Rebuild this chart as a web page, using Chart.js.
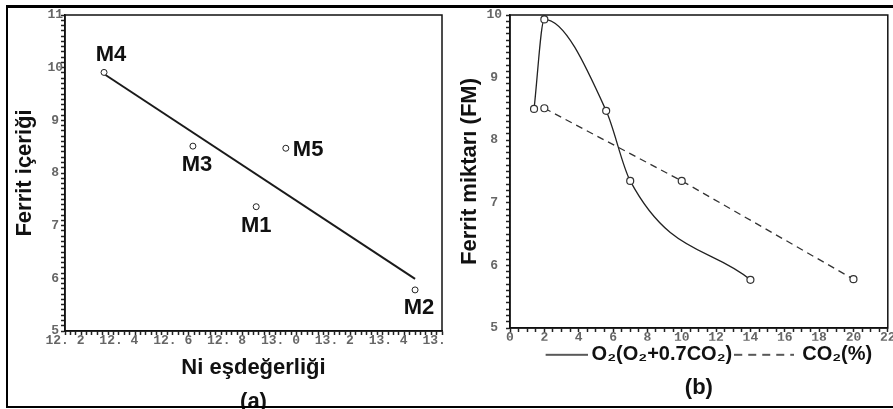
<!DOCTYPE html>
<html><head><meta charset="utf-8">
<script src="https://cdn.jsdelivr.net/npm/chart.js@4.4.1/dist/chart.umd.min.js"></script>
<style>
html,body{margin:0;padding:0;background:#fff;}
body{width:893px;height:409px;position:relative;overflow:hidden;}
#wa{position:absolute;left:0;top:0;width:448px;height:409px;}
#wb{position:absolute;left:448px;top:0;width:445px;height:409px;}
#frame{position:absolute;left:6px;top:5px;width:887px;height:403px;box-sizing:border-box;border:2px solid #000;border-top-width:3px;border-right:none;pointer-events:none;}
</style></head><body>
<div id="wa"><canvas id="ca"></canvas></div>
<div id="wb"><canvas id="cb"></canvas></div>
<div id="frame"></div>
<script>
// ---------- Panel (a) data ----------
const sampleNames   = ['M1', 'M2', 'M3', 'M4', 'M5'];
const niEquivalent  = [12.91, 13.50, 12.675, 12.345, 13.02];
const ferriteA      = [7.36, 5.78, 8.51, 9.91, 8.47];
const fitLineX      = [12.345, 13.50];
const fitLineY      = [9.88, 5.99];
const xTickLabelsA  = ['12. 2', '12. 4', '12. 6', '12. 8', '13. 0', '13. 2', '13. 4', '13. 6'];
const yTickLabelsA  = ['5', '6', '7', '8', '9', '10', '11'];

// ---------- Panel (b) data ----------
const o2X           = [1.4, 2.0, 5.6, 7.0, 14.0];
const o2Ferrite     = [8.50, 9.93, 8.47, 7.35, 5.77];
const co2X          = [2.0, 10.0, 20.0];
const co2Ferrite    = [8.51, 7.35, 5.78];
const xTickLabelsB  = ['0', '2', '4', '6', '8', '10', '12', '14', '16', '18', '20', '22'];
const yTickLabelsB  = ['5', '6', '7', '8', '9', '10'];

// ---------- helpers ----------
function fineTicks(min, max, nMinor) {
  const arr = [];
  for (let i = 0; i <= nMinor; i++) arr.push({ value: min + (max - min) * i / nMinor });
  return arr;
}
const tickFont = { family: 'Liberation Mono', size: 13, weight: 'bold' };
const tickColor = '#666';
const titleFont = { family: 'Liberation Sans', size: 22, weight: 'bold' };

const frameBox = {
  id: 'frameBox',
  afterDraw(chart) {
    const { ctx, chartArea: a } = chart;
    ctx.save();
    ctx.strokeStyle = '#111';
    ctx.lineWidth = 1.5;
    ctx.strokeRect(a.left, a.top, a.right - a.left, a.bottom - a.top);
    ctx.restore();
  }
};

const labelPlace = [
  { dx: 0, dy: 19, align: 'center' },
  { dx: 4, dy: 18, align: 'center' },
  { dx: 4, dy: 19, align: 'center' },
  { dx: 7, dy: -17, align: 'center' },
  { dx: 7, dy: 2, align: 'left' }
];
const nameLabels = {
  id: 'nameLabels',
  afterDatasetsDraw(chart) {
    const meta = chart.getDatasetMeta(0);
    const ctx = chart.ctx;
    ctx.save();
    ctx.font = 'bold 22px "Liberation Sans"';
    ctx.fillStyle = '#111';
    ctx.textBaseline = 'middle';
    meta.data.forEach((pt, i) => {
      const p = labelPlace[i];
      ctx.textAlign = p.align;
      ctx.fillText(sampleNames[i], pt.x + p.dx, pt.y + p.dy);
    });
    ctx.restore();
  }
};

function axisCommon() {
  return {
    grid: { display: true, drawOnChartArea: false, drawTicks: true, tickLength: 4,
            color: '#222', tickColor: '#222', tickWidth: 1.5, lineWidth: 1 },
    border: { display: true, color: '#111', width: 1.5 }
  };
}

// legend line samples (solid / dashed)
function lineSample(w, x0, x1, dash) {
  const c = document.createElement('canvas');
  c.width = w; c.height = 4;
  const g = c.getContext('2d');
  g.strokeStyle = '#222'; g.lineWidth = 1.5;
  g.setLineDash(dash);
  g.beginPath(); g.moveTo(x0, 2); g.lineTo(x1, 2); g.stroke();
  return c;
}
const legendSymbols = [lineSample(68, 26, 68, []), lineSample(60, 0, 60, [8, 6])];

// ---------- Chart (a) ----------
new Chart(document.getElementById('ca'), {
  type: 'scatter',
  data: {
    datasets: [
      {
        data: niEquivalent.map((x, i) => ({ x, y: ferriteA[i] })),
        pointRadius: 3, pointBackgroundColor: '#fff', pointBorderColor: '#222', pointBorderWidth: 1
      },
      {
        data: fitLineX.map((x, i) => ({ x, y: fitLineY[i] })),
        showLine: true, borderColor: '#1a1a1a', borderWidth: 2, pointRadius: 0
      }
    ]
  },
  options: {
    responsive: true, maintainAspectRatio: false, animation: false,
    layout: { padding: { top: 15, right: 6, left: 0, bottom: 0 } },
    plugins: {
      legend: { display: false },
      tooltip: { enabled: false },
      title: { display: true, text: '(a)', position: 'bottom', fullSize: false, color: '#111',
               font: titleFont, padding: { top: 0, bottom: -6 } }
    },
    scales: {
      x: Object.assign(axisCommon(), {
        type: 'linear', min: 12.2, max: 13.6,
        afterBuildTicks: s => { s.ticks = fineTicks(12.2, 13.6, 70); },
        afterFit: s => { s.height = 57.6; s.paddingLeft = 0; s.paddingRight = 0; },
        ticks: { autoSkip: false, maxRotation: 0, minRotation: 0, padding: -2, color: tickColor, font: tickFont,
                 callback: (v, i) => (i % 10 === 0 ? xTickLabelsA[i / 10] : '') },
        title: { display: true, text: 'Ni eşdeğerliği', color: '#111', font: titleFont, padding: { top: 0, bottom: 7.4 } }
      }),
      y: Object.assign(axisCommon(), {
        type: 'linear', min: 5, max: 11,
        afterBuildTicks: s => { s.ticks = fineTicks(5, 11, 60); },
        afterFit: s => { s.width = 65; },
        ticks: { autoSkip: false, crossAlign: 'center', padding: -2, color: tickColor, font: tickFont,
                 callback: (v, i) => (i % 10 === 0 ? yTickLabelsA[i / 10] : '') },
        title: { display: true, text: 'Ferrit içeriği', color: '#111', font: titleFont, padding: { top: 11.8, bottom: 0 } }
      })
    }
  },
  plugins: [frameBox, nameLabels]
});

// ---------- Chart (b) ----------
new Chart(document.getElementById('cb'), {
  type: 'scatter',
  data: {
    datasets: [
      {
        label: 'O₂(O₂+0.7CO₂)',
        data: o2X.map((x, i) => ({ x, y: o2Ferrite[i] })),
        showLine: true, cubicInterpolationMode: 'monotone', borderColor: '#222', borderWidth: 1.3,
        pointRadius: 3.5, pointBackgroundColor: '#fff', pointBorderColor: '#333', pointBorderWidth: 1.2
      },
      {
        label: 'CO₂(%)',
        data: co2X.map((x, i) => ({ x, y: co2Ferrite[i] })),
        showLine: true, tension: 0, borderColor: '#333', borderWidth: 1.3, borderDash: [7, 5],
        pointRadius: 3.5, pointBackgroundColor: '#fff', pointBorderColor: '#333', pointBorderWidth: 1.2
      }
    ]
  },
  options: {
    responsive: true, maintainAspectRatio: false, animation: false,
    layout: { padding: { top: 15, right: 4, left: 0, bottom: 0 } },
    plugins: {
      tooltip: { enabled: false },
      legend: {
        display: true, position: 'bottom', fullSize: false,
        labels: {
          usePointStyle: true, pointStyleWidth: 56, padding: 4,
          color: '#111', font: { family: 'Liberation Sans', size: 20, weight: 'bold' },
          generateLabels: chart => Chart.defaults.plugins.legend.labels.generateLabels(chart)
            .map((item, i) => Object.assign(item, { pointStyle: legendSymbols[i] }))
        }
      },
      title: { display: true, text: '(b)', position: 'bottom', fullSize: false, color: '#111',
               font: titleFont, padding: { top: 0, bottom: 7.8 } }
    },
    scales: {
      x: Object.assign(axisCommon(), {
        type: 'linear', min: 0, max: 22,
        afterBuildTicks: s => { s.ticks = fineTicks(0, 22, 44); },
        afterFit: s => { s.height = 12.8; s.paddingLeft = 0; s.paddingRight = 0; },
        ticks: { autoSkip: false, maxRotation: 0, minRotation: 0, padding: -2, color: tickColor, font: tickFont,
                 callback: (v, i) => (i % 4 === 0 ? xTickLabelsB[i / 4] : '') }
      }),
      y: Object.assign(axisCommon(), {
        type: 'linear', min: 5, max: 10,
        afterBuildTicks: s => { s.ticks = fineTicks(5, 10, 50); },
        afterFit: s => { s.width = 62; },
        ticks: { autoSkip: false, crossAlign: 'center', padding: 4, color: tickColor, font: tickFont,
                 callback: (v, i) => (i % 10 === 0 ? yTickLabelsB[i / 10] : '') },
        title: { display: true, text: 'Ferrit miktarı (FM)', color: '#111', font: titleFont, padding: { top: 8.8, bottom: 0 } }
      })
    }
  },
  plugins: [frameBox]
});
</script>
</body></html>
